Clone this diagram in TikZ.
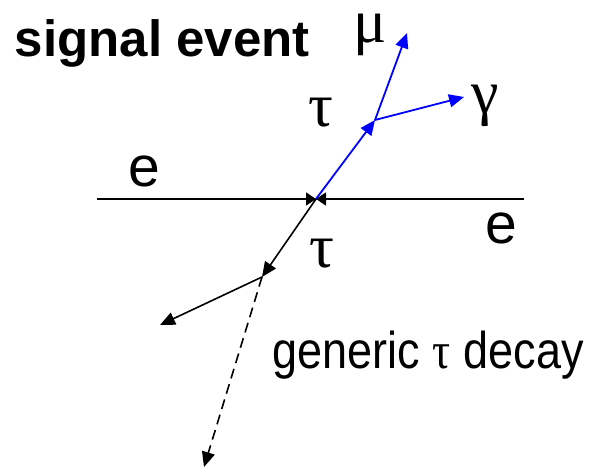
\documentclass[tikz,border=0pt]{standalone}
\usepackage{fontspec}
\setmainfont{Liberation Sans}
\newfontfamily\greekfont{Liberation Serif}
\usetikzlibrary{arrows.meta}
\tikzset{
  every picture/.style={line width=1.6pt},
  lbl/.style={inner sep=0pt, font=\fontsize{57}{60}\selectfont},
  glbl/.style={inner sep=0pt, text height=0.45em, text depth=0.2em, font=\fontsize{62}{66}\greekfont},
  track/.style={-{Triangle[length=15pt, width=13pt]}},
  beam/.style={-{Triangle[length=10pt, width=13pt]}},
  sig/.style={track, draw=blue, line width=1.8pt},
}
\begin{document}
\begin{tikzpicture}[x=1pt, y=-1pt]
  \useasboundingbox (0,0) rectangle (597,473);
  % vertices and track ends
  \coordinate (eL) at (97,199);
  \coordinate (eR) at (524,199);
  \coordinate (vtx) at (316,199);
  \coordinate (tdec) at (375,120);
  \coordinate (muend) at (407,33);
  \coordinate (gend) at (464,97);
  \coordinate (tbar) at (262,277);
  \coordinate (hadr) at (160,325);
  \coordinate (nuend) at (204,467);
  % colliding beams
  \draw[line width=1.2pt] (eL) -- (eR);
  \draw[beam] (eL) -- (vtx);
  \draw[beam] (eR) -- (vtx);
  % signal side: tau -> mu gamma
  \draw[sig] (vtx) -- (tdec);
  \draw[sig] (tdec) -- (muend);
  \draw[sig] (tdec) -- (gend);
  % tag side
  \draw[track] (vtx) -- (tbar);
  \draw[track] (tbar) -- (hadr);
  \draw[track, dashed, dash pattern=on 10pt off 6pt] (tbar) -- (nuend);
  % labels
  \node[inner sep=0pt, anchor=base west, font=\fontsize{51}{54}\selectfont\bfseries] (title) at (14,57) {signal event};
  \node[glbl, anchor=base] (mu) at (370,43) {μ};
  \node[glbl, anchor=base] (gam) at (485,114) {γ};
  \node[glbl, anchor=base] (tau1) at (321,127) {τ};
  \node[glbl, anchor=base] (tau2) at (322,267) {τ};
  \node[lbl] (e1) at (144,171) {e};
  \node[lbl] (e2) at (501,228) {e};
  \node[inner sep=0pt, anchor=base west, font=\fontsize{45}{48}\selectfont, transform shape, yscale=1.15] (gen) at (272,368) {generic {\greekfont τ} decay};
\end{tikzpicture}
\end{document}
